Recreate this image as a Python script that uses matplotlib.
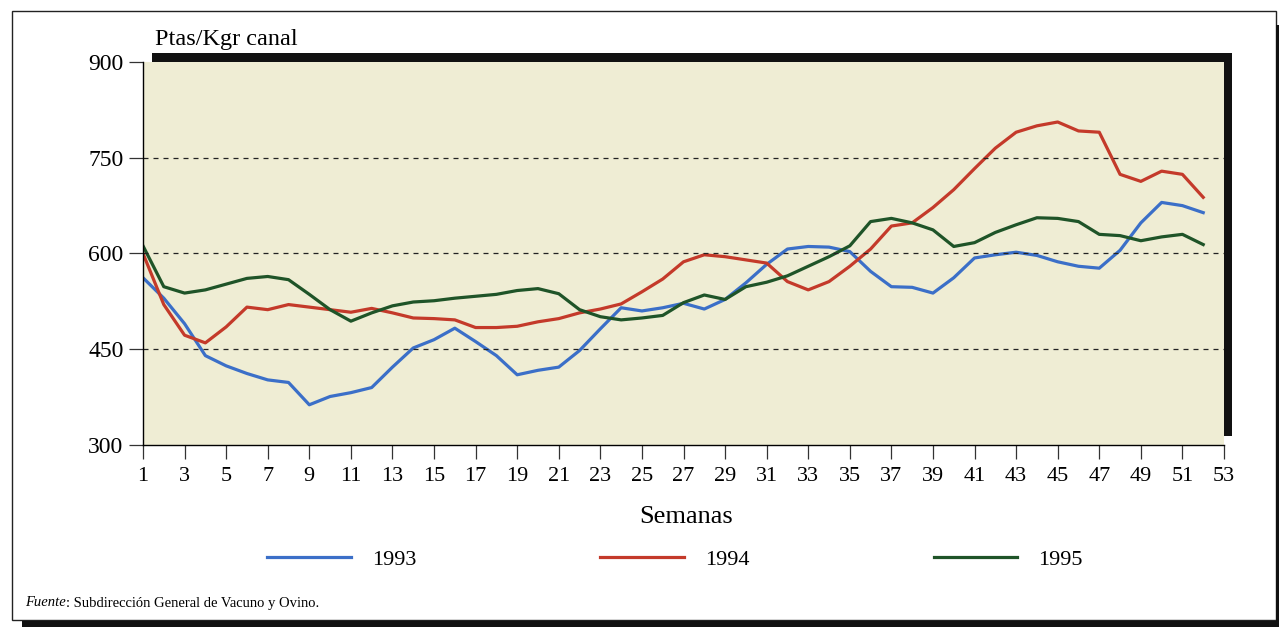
import matplotlib
matplotlib.use("Agg")
import matplotlib.pyplot as plt
from matplotlib.patches import Rectangle

plt.rcParams['font.family'] = ['Liberation Serif', 'DejaVu Serif']

semanas = list(range(1, 53))

precio_1993 = [562, 530, 490, 440, 424, 412, 402, 398, 363, 376, 382, 390, 422, 452, 465, 483,
               462, 440, 410, 417, 422, 448, 482, 515, 510, 515, 522, 513, 528, 554, 583, 607,
               611, 610, 603, 572, 548, 547, 538, 562, 593, 598, 602, 597, 587, 580, 577, 605,
               648, 680, 675, 664]
precio_1994 = [600, 520, 472, 460, 485, 516, 512, 520, 516, 512, 508, 514, 507, 499, 498, 496,
               484, 484, 486, 493, 498, 507, 513, 521, 540, 560, 587, 598, 595, 590, 585, 556,
               543, 556, 580, 607, 643, 648, 672, 700, 733, 765, 790, 800, 806, 792, 790, 724,
               713, 729, 724, 688]
precio_1995 = [612, 548, 538, 543, 552, 561, 564, 559, 536, 512, 494, 507, 518, 524, 526, 530,
               533, 536, 542, 545, 537, 512, 501, 496, 499, 503, 523, 535, 528, 548, 555, 565,
               580, 595, 612, 650, 655, 648, 637, 611, 617, 633, 645, 656, 655, 650, 630, 628,
               620, 626, 630, 614]

anios = ['1993', '1994', '1995']
colores = ['#3b6fc8', '#c43a2a', '#1f5428']
yticks = [300, 450, 600, 750, 900]
xticks = list(range(1, 54, 2))

W, H = 1279, 627
fig = plt.figure(figsize=(W / 100, H / 100), dpi=100)
ax = fig.add_axes([143 / W, 1 - 445 / H, (1224 - 143) / W, (445 - 62) / H])
ax.set_facecolor('#efedd4')

for serie, anio, col in zip([precio_1993, precio_1994, precio_1995], anios, colores):
    ax.plot(semanas, serie, color=col, lw=2.3, label=anio, solid_joinstyle='round')

ax.set_xlim(1, 52.9)
ax.set_ylim(300, 900)
ax.set_xticks(xticks)
ax.set_yticks(yticks)
ax.tick_params(length=10, width=0.9, color='#333333')
ax.tick_params(axis='x', labelsize=16, pad=6)
ax.tick_params(axis='y', labelsize=17, pad=4)
for y in [450, 600, 750]:
    ax.axhline(y, color='#222222', lw=0.9, ls=(0, (4, 4)))
for s in ['top', 'right']:
    ax.spines[s].set_visible(False)
for s in ['left', 'bottom']:
    ax.spines[s].set_linewidth(1.0)

fig.text(155 / W, 1 - 40 / H, 'Ptas/Kgr canal', fontsize=17.5, va='center')
fig.text(686 / W, 1 - 517 / H, 'Semanas', fontsize=19, va='center', ha='center')

# sombra negra del grafico
fig.add_artist(Rectangle((152 / W, 1 - 62 / H), (1232 - 152) / W, 9 / H,
                         transform=fig.transFigure, color='#111111', lw=0))
fig.add_artist(Rectangle((1224 / W, 1 - 436 / H), 8 / W, (436 - 53) / H,
                         transform=fig.transFigure, color='#111111', lw=0))

# marco exterior
fig.add_artist(Rectangle((12 / W, 1 - 620 / H), (1276 - 12) / W, (620 - 11) / H,
                         transform=fig.transFigure, fill=False, ec='#222222', lw=1.0))
fig.add_artist(Rectangle((1276 / W, 0), 3 / W, 1 - 25 / H,
                         transform=fig.transFigure, color='#111111', lw=0))
fig.add_artist(Rectangle((22 / W, 0), 1 - 22 / W, 6 / H,
                         transform=fig.transFigure, color='#111111', lw=0))

fig.legend(ncol=3, loc='center', bbox_to_anchor=(675 / W, 1 - 560 / H), frameon=False,
           fontsize=16, handlelength=3.75, handletextpad=0.95, columnspacing=8.3)

t = fig.text(25 / W, 1 - 603 / H, 'Fuente', fontsize=10.5, va='center', style='italic')
r = fig.canvas.get_renderer()
bb = t.get_window_extent(renderer=r)
fig.text(bb.x1 / W, 1 - 603 / H, ': Subdirección General de Vacuno y Ovino.',
         fontsize=10.5, va='center')

fig.savefig('out.png', dpi=100)
